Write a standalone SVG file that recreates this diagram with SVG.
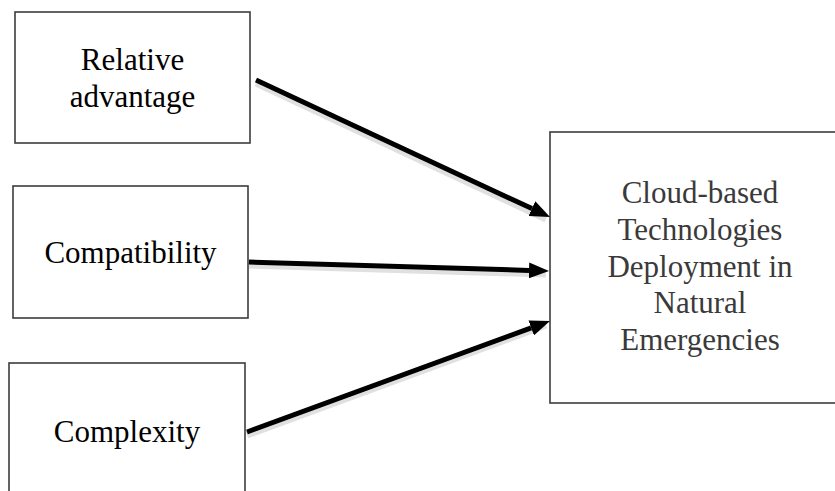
<svg xmlns="http://www.w3.org/2000/svg" width="835" height="491" viewBox="0 0 835 491">
<defs>
<style>
.box{fill:#fff;stroke:#3c3c3c;stroke-width:1.6}
.t{font-family:"Liberation Serif","Times New Roman",serif;font-size:31px;fill:#000;text-anchor:middle}
.t2{font-family:"Liberation Serif","Times New Roman",serif;font-size:31px;fill:#3a3a3a;text-anchor:middle}
.c{stroke:#000;stroke-width:5;fill:none;marker-end:url(#ah)}
.sh{stroke:#000;stroke-opacity:0.12;stroke-width:7;fill:none}
</style>
<marker id="ah" viewBox="0 0 20 16" refX="0" refY="8" markerUnits="userSpaceOnUse" markerWidth="20" markerHeight="16" orient="auto">
<path d="M0,0 L20,8 L0,16 z" fill="#000"/>
</marker>
</defs>
<g id="node-relative">
<rect class="box" x="15" y="12" width="235" height="131"/>
<text class="t" x="132.5" y="70">Relative</text>
<text class="t" x="132.5" y="107">advantage</text>
</g>
<g id="node-compatibility">
<rect class="box" x="13" y="186" width="235" height="132"/>
<text class="t" x="130.5" y="263">Compatibility</text>
</g>
<g id="node-complexity">
<rect class="box" x="9" y="363" width="236" height="140"/>
<text class="t" x="127" y="442">Complexity</text>
</g>
<g id="node-cloud">
<rect class="box" x="550" y="132" width="300" height="271"/>
<text class="t2" x="700" y="203">Cloud-based</text>
<text class="t2" x="700" y="240">Technologies</text>
<text class="t2" x="700" y="277">Deployment in</text>
<text class="t2" x="700" y="313">Natural</text>
<text class="t2" x="700" y="350">Emergencies</text>
</g>
<g id="connectors">
<line class="sh" x1="256" y1="83" x2="546" y2="219"/>
<line class="sh" x1="249" y1="265" x2="546" y2="274"/>
<line class="sh" x1="247" y1="435" x2="546" y2="325"/>
<line class="c" x1="256" y1="80" x2="531.9" y2="208.6"/>
<line class="c" x1="249" y1="262" x2="529" y2="270.4"/>
<line class="c" x1="247" y1="432" x2="531.2" y2="327.9"/>
</g>
</svg>
